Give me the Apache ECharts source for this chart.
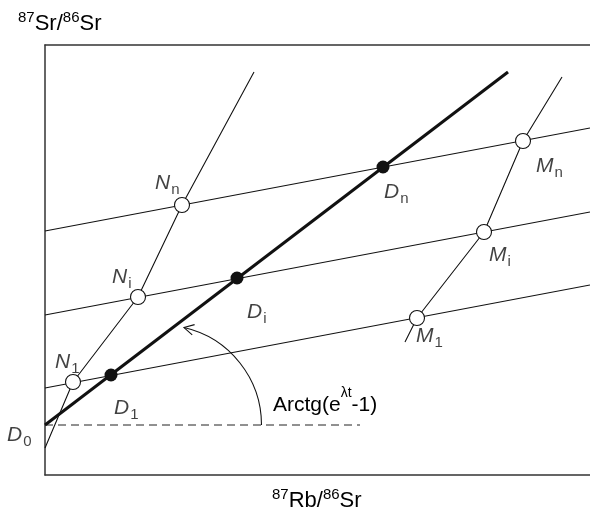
<!DOCTYPE html>
<html><head><meta charset="utf-8">
<script src="https://cdn.jsdelivr.net/npm/echarts@6/dist/echarts.min.js"></script>
<style>html,body{margin:0;padding:0;background:#fff}#c{width:590px;height:508px}</style>
</head><body><div id="c"></div>
<script>
// Schematic coordinates (arbitrary units): x = 87Rb/86Sr, y = 87Sr/86Sr
const D0 = [0, 50];
const wholeRockEnd = [463, 403];
const initialRatioEnd = [315, 50];
const isochron1 = [[0, 87], [545, 190]];
const isochronI = [[0, 160], [545, 263]];
const isochronN = [[0, 244], [545, 347]];
const nPoints = [[28, 93], [93, 178], [137, 270]];
const mPoints = [[372, 157], [439, 243], [478, 334]];
const dPoints = [[66, 100], [192, 197], [338, 308]];
const nLineEnds = [[0, 27], [209, 403]];
const mLineEnds = [[360, 133], [517, 398]];
const subs = ['1', 'i', 'n'];
const arcCenter = [116.5, 50];
const arcRadius = 100;
const arcStartDeg = 77;

const FONT = "'Liberation Sans', Arial, Helvetica, sans-serif";
const INK = '#111';
const FRAME = '#333';

// label offsets (px) relative to the point
const nOff = [[-18, -30], [-26, -30], [-27, -32]];
const mOff = [[-1, 8], [5, 13], [13, 15]];
const dOff = [[3, 23], [10, 24], [1, 15]];
const d0Off = [-38, 0];

const labelRich = {
  m: {fontSize: 21, fontStyle: 'italic', fontFamily: FONT, color: INK, verticalAlign: 'top', lineHeight: 21},
  b: {fontSize: 15, fontFamily: FONT, color: INK, verticalAlign: 'top', lineHeight: 15, padding: [9, 0, 0, 1]}
};
const supRich = (main, sup, p) => ({
  m: {fontSize: main, fontFamily: FONT, color: INK, verticalAlign: 'top', lineHeight: main, padding: [p, 0, 0, 0]},
  s: {fontSize: sup, fontFamily: FONT, color: INK, verticalAlign: 'top', lineHeight: sup}
});

const labelItems = [];
nPoints.forEach((p, i) => labelItems.push({value: p, letter: 'N', sub: subs[i], off: nOff[i]}));
mPoints.forEach((p, i) => labelItems.push({value: p, letter: 'M', sub: subs[i], off: mOff[i]}));
dPoints.forEach((p, i) => labelItems.push({value: p, letter: 'D', sub: subs[i], off: dOff[i]}));
labelItems.push({value: D0, letter: 'D', sub: '0', off: d0Off});

const thin = {color: INK, width: 1.1};
const lineSeries = (data, style, extra) => Object.assign({
  type: 'line', data, symbol: 'none', silent: true, animation: false,
  lineStyle: style, z: 2
}, extra || {});

const frameAxis = (extra) => Object.assign({
  type: 'value', min: 0,
  axisLine: {show: true, onZero: false, lineStyle: {color: FRAME, width: 1.5}},
  axisTick: {show: false}, axisLabel: {show: false}, splitLine: {show: false}
}, extra);

const chart = echarts.init(document.getElementById('c'), null, {renderer: 'canvas'});
chart.setOption({
  animation: false,
  grid: {left: 45, top: 45, width: 545, height: 430},
  xAxis: [frameAxis({max: 545, position: 'bottom'}), frameAxis({max: 545, position: 'top'})],
  yAxis: [frameAxis({max: 430, position: 'left'})],
  graphic: [
    {type: 'text', x: 18, y: 10, style: {text: '{s|87}{m|Sr/}{s|86}{m|Sr}', rich: supRich(22, 15, 3), align: 'left', verticalAlign: 'top'}},
    {type: 'text', x: 272, y: 487, style: {text: '{s|87}{m|Rb/}{s|86}{m|Sr}', rich: supRich(22, 15, 3), align: 'left', verticalAlign: 'top'}},
    {type: 'text', x: 273, y: 386, style: {text: '{m|Arctg(e}{s|λt}{m|-1)}', rich: supRich(21, 14, 9), align: 'left', verticalAlign: 'top'}}
  ],
  series: [
    lineSeries([D0, initialRatioEnd], {color: '#222', width: 1, type: [8, 5]}),
    lineSeries(isochron1, thin),
    lineSeries(isochronI, thin),
    lineSeries(isochronN, thin),
    lineSeries([nLineEnds[0], ...nPoints, nLineEnds[1]], thin),
    lineSeries([mLineEnds[0], ...mPoints, mLineEnds[1]], thin),
    lineSeries([D0, wholeRockEnd], {color: INK, width: 3}, {z: 3}),
    {
      type: 'custom', silent: true, z: 3, data: [[0, 0]],
      renderItem: (params, api) => {
        const c = api.coord(arcCenter);
        const r = api.size([arcRadius, 0])[0];
        const a0 = -arcStartDeg * Math.PI / 180;
        const tip = [c[0] + r * Math.cos(a0), c[1] + r * Math.sin(a0)];
        const fwd = [-Math.sin(a0), Math.cos(a0)];
        const arm = (ang) => {
          const ca = Math.cos(ang), sa = Math.sin(ang);
          return [tip[0] + 11 * (fwd[0] * ca - fwd[1] * sa), tip[1] + 11 * (fwd[0] * sa + fwd[1] * ca)];
        };
        return {type: 'group', children: [
          {type: 'arc', shape: {cx: c[0], cy: c[1], r: r, startAngle: a0, endAngle: 0, clockwise: true}, style: {stroke: INK, lineWidth: 1.1, fill: null}},
          {type: 'polyline', shape: {points: [arm(0.5), tip, arm(-0.5)]}, style: {stroke: INK, lineWidth: 1.1, fill: null}}
        ]};
      }
    },
    {type: 'scatter', data: nPoints.concat(mPoints), symbol: 'circle', symbolSize: 15, z: 5, silent: true,
      itemStyle: {color: '#fff', borderColor: INK, borderWidth: 1.1, opacity: 1}},
    {type: 'scatter', data: dPoints, symbol: 'circle', symbolSize: 13, z: 5, silent: true,
      itemStyle: {color: INK, opacity: 1}},
    {type: 'scatter', symbolSize: 1, z: 6, silent: true, itemStyle: {color: 'rgba(0,0,0,0)'},
      data: labelItems.map(it => ({
        value: it.value,
        label: {show: true, position: 'inside', align: 'left', verticalAlign: 'top', offset: it.off,
          formatter: '{m|' + it.letter + '}{b|' + it.sub + '}', rich: labelRich}
      }))}
  ]
});
</script></body></html>
